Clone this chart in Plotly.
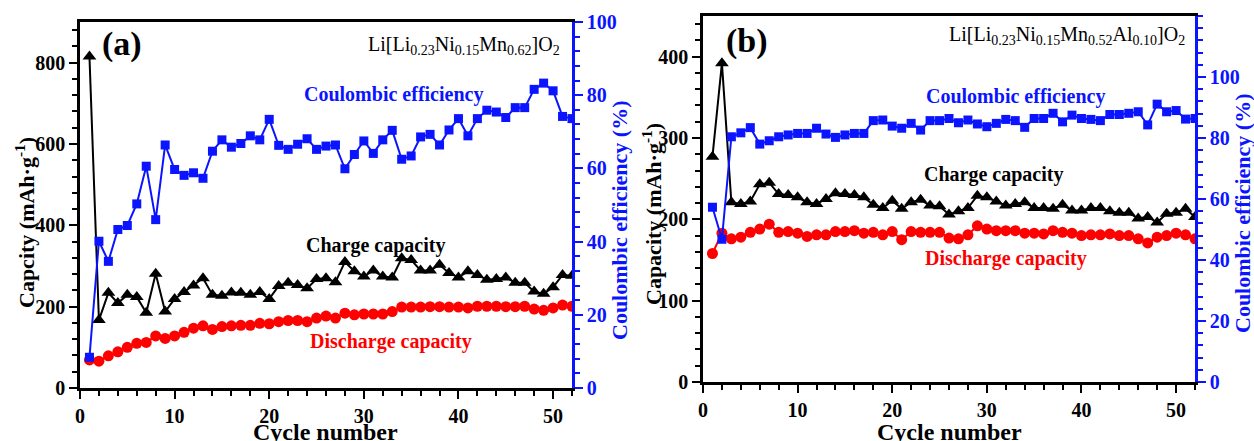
import plotly.graph_objects as go

cycles = list(range(1, 53))

# Panel (a): Li[Li0.23Ni0.15Mn0.62]O2
charge_a = [815, 167, 234, 209, 229, 224, 185, 281, 188, 219,
            236, 252, 270, 229, 227, 235, 234, 229, 236, 219,
            251, 259, 253, 245, 268, 270, 260, 310, 287, 274,
            289, 274, 272, 319, 315, 289, 289, 303, 283, 272,
            287, 278, 266, 268, 272, 259, 259, 237, 232, 248,
            278, 276]
discharge_a = [69, 66, 79, 89, 100, 110, 112, 128, 122, 128,
               137, 147, 153, 144, 151, 153, 154, 154, 159, 158,
               163, 166, 166, 163, 172, 177, 172, 184, 180, 182,
               182, 182, 188, 199, 199, 199, 200, 200, 199, 199,
               197, 201, 201, 201, 200, 200, 201, 194, 191, 197,
               204, 201]
ce_a = [8.4, 40.1, 34.6, 43.3, 44.4, 50.3, 60.6, 46.0, 66.4, 59.7,
        58.1, 58.8, 57.3, 64.7, 67.8, 65.8, 66.8, 68.9, 67.8, 73.4,
        66.3, 65.2, 66.6, 68.1, 65.2, 66.1, 66.4, 59.9, 63.8, 67.5,
        64.1, 67.8, 70.4, 62.5, 63.4, 68.6, 69.3, 66.4, 70.5, 73.6,
        68.9, 73.6, 75.9, 75.4, 73.9, 76.6, 76.6, 81.6, 83.3, 81.2,
        74.2, 73.6]

# Panel (b): Li[Li0.23Ni0.15Mn0.52Al0.10]O2
charge_b = [277, 392, 221, 219, 222, 243, 245, 231, 230, 227,
            221, 219, 225, 232, 231, 230, 227, 218, 214, 223,
            213, 221, 224, 217, 216, 206, 210, 214, 229, 227,
            222, 217, 219, 221, 214, 214, 213, 218, 211, 211,
            214, 214, 210, 208, 208, 201, 203, 196, 207, 208,
            213, 203]
discharge_b = [158, 183, 176, 178, 184, 188, 194, 184, 185, 183,
               179, 181, 181, 185, 185, 186, 183, 184, 181, 185,
               175, 185, 184, 184, 184, 177, 176, 181, 192, 188,
               186, 186, 186, 183, 183, 182, 186, 184, 183, 180,
               181, 181, 182, 180, 180, 176, 171, 178, 180, 183,
               181, 176]
ce_b = [57.3, 46.8, 80.4, 81.7, 83.4, 78.0, 79.1, 80.4, 81.0, 81.5,
        81.5, 83.2, 81.3, 80.2, 81.0, 81.5, 81.5, 85.7, 85.9, 83.9,
        83.2, 84.8, 82.6, 85.7, 85.7, 86.4, 85.0, 85.9, 84.6, 83.7,
        84.8, 86.1, 85.7, 83.5, 86.4, 86.4, 88.1, 85.3, 87.5, 86.4,
        86.1, 85.7, 87.7, 87.7, 88.1, 88.6, 84.3, 91.1, 88.6, 89.0,
        86.2, 86.4]

W, H = 1254, 441
BLACK = "#000000"
RED = "#ff0000"
BLUE = "#0a14ff"
FONT = "Times New Roman, Liberation Serif, serif"


def px(x):
    return x / W


def py(y):
    return 1 - y / H


fig = go.Figure()


def add_panel(xa, ya_left, ya_right, ch, dc, ce):
    fig.add_trace(go.Scatter(x=cycles, y=ch, mode="lines+markers", xaxis=xa, yaxis=ya_left,
                             line=dict(color=BLACK, width=2),
                             marker=dict(symbol="triangle-up", size=12, color=BLACK),
                             showlegend=False))
    fig.add_trace(go.Scatter(x=cycles, y=dc, mode="lines+markers", xaxis=xa, yaxis=ya_left,
                             line=dict(color=RED, width=2),
                             marker=dict(symbol="circle", size=11, color=RED),
                             showlegend=False))
    fig.add_trace(go.Scatter(x=cycles, y=ce, mode="lines+markers", xaxis=xa, yaxis=ya_right,
                             line=dict(color=BLUE, width=2),
                             marker=dict(symbol="square", size=9, color=BLUE),
                             showlegend=False))


add_panel("x", "y", "y2", charge_a, discharge_a, ce_a)
add_panel("x2", "y3", "y4", charge_b, discharge_b, ce_b)

tickfont_k = dict(family=FONT, size=20, color=BLACK, weight="bold")
tickfont_b = dict(family=FONT, size=20, color=BLUE, weight="bold")

common_x = dict(range=[0, 52], dtick=10, tick0=0, showline=True, linecolor=BLACK, linewidth=2.5,
                mirror=True, ticks="outside", ticklen=8, tickwidth=2, tickcolor=BLACK,
                minor=dict(dtick=2, ticks="outside", ticklen=5, tickwidth=1.5, tickcolor=BLACK),
                showgrid=False, zeroline=False, tickfont=tickfont_k, automargin=False)

fig.update_layout(
    width=W, height=H, margin=dict(l=0, r=0, t=0, b=0),
    paper_bgcolor="white", plot_bgcolor="white",
    xaxis=dict(domain=[px(80), px(572)], anchor="y", **common_x),
    xaxis2=dict(domain=[px(703), px(1195)], anchor="y3", **common_x),
    yaxis=dict(domain=[py(388), py(22)], anchor="x", range=[0, 900], dtick=200,
               showline=True, linecolor=BLACK, linewidth=2.5, ticks="outside", ticklen=8,
               tickwidth=2, tickcolor=BLACK,
               minor=dict(dtick=40, ticks="outside", ticklen=5, tickwidth=1.5, tickcolor=BLACK),
               showgrid=False, zeroline=False, tickfont=tickfont_k, automargin=False),
    yaxis2=dict(overlaying="y", anchor="x", side="right", range=[0, 100], dtick=20,
                showline=True, linecolor=BLUE, linewidth=2.5, ticks="outside", ticklen=8,
                tickwidth=2, tickcolor=BLUE,
                minor=dict(dtick=4, ticks="outside", ticklen=5, tickwidth=1.5, tickcolor=BLUE),
                showgrid=False, zeroline=False, tickfont=tickfont_b, automargin=False),
    yaxis3=dict(domain=[py(382), py(16)], anchor="x2", range=[0, 450], dtick=100,
                showline=True, linecolor=BLACK, linewidth=2.5, ticks="outside", ticklen=8,
                tickwidth=2, tickcolor=BLACK,
                minor=dict(dtick=20, ticks="outside", ticklen=5, tickwidth=1.5, tickcolor=BLACK),
                showgrid=False, zeroline=False, tickfont=tickfont_k, automargin=False),
    yaxis4=dict(overlaying="y3", anchor="x2", side="right", range=[0, 120], dtick=20,
                tickvals=[0, 20, 40, 60, 80, 100],
                showline=True, linecolor=BLUE, linewidth=2.5, ticks="outside", ticklen=8,
                tickwidth=2, tickcolor=BLUE,
                minor=dict(dtick=4, ticks="outside", ticklen=5, tickwidth=1.5, tickcolor=BLUE),
                showgrid=False, zeroline=False, tickfont=tickfont_b, automargin=False),
)


def ann(text, x, y, size=20, color=BLACK, bold=True, xanchor="center", yanchor="middle", angle=0):
    fig.add_annotation(text=text, x=px(x), y=py(y), xref="paper", yref="paper",
                       xanchor=xanchor, yanchor=yanchor, showarrow=False, textangle=angle,
                       font=dict(family=FONT, size=size, color=color,
                                 weight="bold" if bold else "normal"))


# Panel labels
ann("(a)", 122, 44, size=34)
ann("(b)", 747, 41, size=34)

# Formulas
ann("Li[Li<sub>0.23</sub>Ni<sub>0.15</sub>Mn<sub>0.62</sub>]O<sub>2</sub>", 562, 45, size=20,
    bold=False, xanchor="right")
ann("Li[Li<sub>0.23</sub>Ni<sub>0.15</sub>Mn<sub>0.52</sub>Al<sub>0.10</sub>]O<sub>2</sub>", 1187, 36,
    size=20, bold=False, xanchor="right")

# Series labels
ann("Coulombic efficiency", 393, 95, color=BLUE)
ann("Charge capacity", 376, 245)
ann("Discharge capacity", 391, 341, color=RED)
ann("Coulombic efficiency", 1015, 97, color=BLUE)
ann("Charge capacity", 993, 175)
ann("Discharge capacity", 1006, 258, color=RED)

# Axis titles
ann("Capcity (mAh·g<sup>-1</sup>)", 25, 223, size=22, angle=-90)
ann("Coulombic efficiency (%)", 619, 220, size=22, color=BLUE, angle=-90)
ann("Capacity (mAh·g<sup>-1</sup>)", 652, 214, size=22, angle=-90)
ann("Coulombic efficiency (%)", 1242, 213, size=22, color=BLUE, angle=-90)
ann("Cycle number", 325, 417, size=24, yanchor="top")
ann("Cycle number", 949, 417, size=24, yanchor="top")

fig.write_html("out.html")
